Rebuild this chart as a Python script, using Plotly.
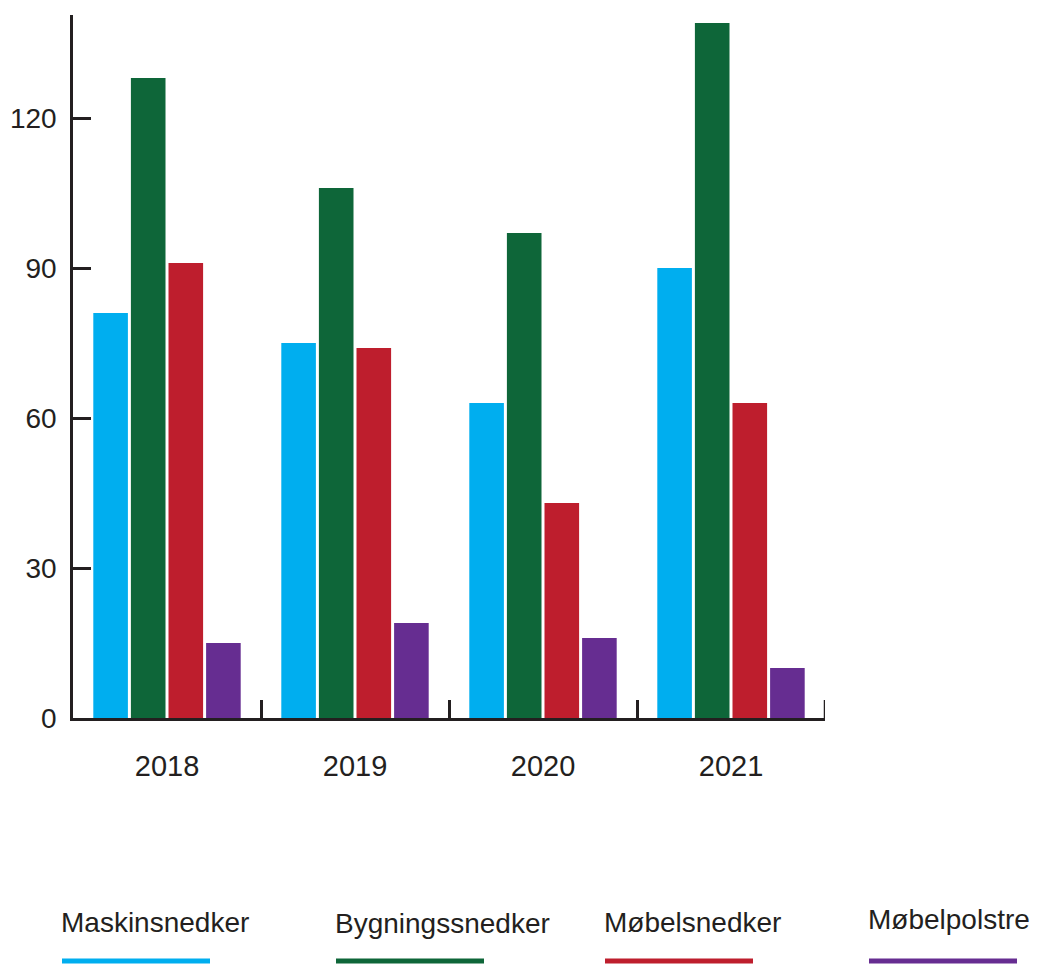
import plotly.graph_objects as go

years = ["2018", "2019", "2020", "2021"]
series_names = ["Maskinsnedker", "Bygningssnedker", "Møbelsnedker", "Møbelpolstre"]
maskinsnedker = [81, 75, 63, 90]
bygningssnedker = [128, 106, 97, 139]
mobelsnedker = [91, 74, 43, 63]
mobelpolstre = [15, 19, 16, 10]
y_ticks = [0, 30, 60, 90, 120]
group_edges = [0.5, 1.5, 2.5, 3.5]

colors = ["#00AEEF", "#0E6639", "#BE1E2D", "#662D91"]
values = [maskinsnedker, bygningssnedker, mobelsnedker, mobelpolstre]

FONT = "Liberation Sans"
INK = "#231f20"

fig = go.Figure()
for name, vals, col in zip(series_names, values, colors):
    fig.add_trace(go.Bar(x=years, y=vals, name=name, marker=dict(color=col, line=dict(width=0)),
                         showlegend=False))
# invisible helper trace to activate the boundary-tick axis
fig.add_trace(go.Scatter(x=[group_edges[0]], y=[0], xaxis="x2", mode="markers",
                         marker=dict(opacity=0), showlegend=False, hoverinfo="skip"))

OFF = 8  # page body margin
W, H = 1038, 964
PL, PR, PT, PB = 73, 825, 15, 718
L = PL - OFF
T = PT - OFF
R = W - (PR - OFF)
B = H - (PB - OFF)
pw, ph = PR - PL, PB - PT
TICKLEN = 18

def px(x):
    return (x - PL) / pw

def py(y):
    return (PB - y) / ph

fig.update_layout(
    width=W, height=H,
    margin=dict(l=L, r=R, t=T, b=B, pad=0, autoexpand=False),
    paper_bgcolor="white", plot_bgcolor="white",
    barmode="group", bargap=0.2, bargroupgap=0.08,
    font=dict(family=FONT, color=INK),
    xaxis=dict(
        type="category", range=[-0.5, 3.5], automargin=False,
        showline=True, linecolor=INK, linewidth=2.5,
        ticks="",
        tickfont=dict(size=29, family=FONT, color=INK),
        ticklabelstandoff=20,
        showgrid=False, zeroline=False,
    ),
    xaxis2=dict(
        type="linear", range=[-0.5, 3.5], overlaying="x", anchor="y", side="bottom",
        automargin=False, tickvals=group_edges, showticklabels=False,
        ticks="inside", ticklen=TICKLEN, tickwidth=2.5, tickcolor=INK,
        showline=False, showgrid=False, zeroline=False,
    ),
    yaxis=dict(
        range=[0, 140.6], tickvals=y_ticks, automargin=False,
        showline=True, linecolor=INK, linewidth=2.5,
        ticks="inside", ticklen=TICKLEN, tickwidth=2.5, tickcolor=INK,
        tickfont=dict(size=28, family=FONT, color=INK),
        ticklabelstandoff=8,
        showgrid=False, zeroline=False,
    ),
)

# closing tick at the right end of the category axis (plotly drops edge ticks)
fig.add_shape(type="line", xref="x2", yref="paper", x0=group_edges[-1], x1=group_edges[-1],
              y0=0, y1=TICKLEN / ph, line=dict(color=INK, width=2.5))

legend_text_x = [59, 333, 602, 866]
legend_text_y = [922, 923, 922, 919]
line_x0 = [62, 336, 605, 869]
line_len = 148
line_y = 961
for name, col, tx, ty, lx in zip(series_names, colors, legend_text_x, legend_text_y, line_x0):
    fig.add_annotation(xref="paper", yref="paper", x=px(tx), y=py(ty), text=name,
                       showarrow=False, xanchor="left", yanchor="middle",
                       font=dict(size=28, family=FONT, color=INK))
    fig.add_shape(type="line", xref="paper", yref="paper",
                  x0=px(lx), x1=px(lx + line_len), y0=py(line_y), y1=py(line_y),
                  line=dict(color=col, width=5))

fig.write_html("out.html")
